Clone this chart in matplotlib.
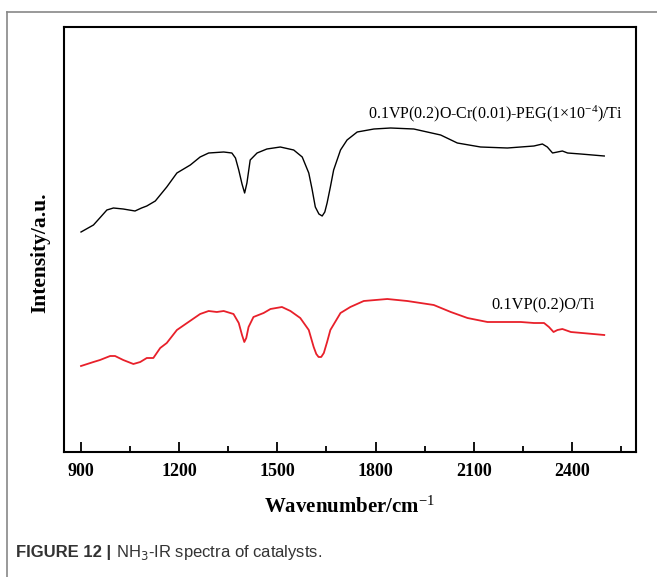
import matplotlib
matplotlib.use("Agg")
import matplotlib.pyplot as plt
from matplotlib.ticker import MultipleLocator
from matplotlib.lines import Line2D

serif = "Liberation Serif"
plt.rcParams["mathtext.fontset"] = "custom"
plt.rcParams["mathtext.rm"] = serif
plt.rcParams["mathtext.it"] = serif + ":italic"
plt.rcParams["mathtext.bf"] = serif + ":bold"

# Black curve: 0.1VP(0.2)O-Cr(0.01)-PEG(1x10^-4)/Ti
wn_black = [900, 938, 960, 979, 999, 1029, 1065, 1085, 1101, 1127, 1162, 1193, 1234, 1264, 1290,
            1336, 1361, 1372, 1382, 1392, 1400, 1407, 1417, 1438, 1468, 1509, 1550, 1576,
            1596, 1606, 1616, 1627, 1637, 1645, 1652, 1662, 1672, 1693, 1713, 1744, 1795, 1846, 1917, 1999,
            2050, 2121, 2203, 2284, 2310, 2325, 2341, 2356, 2371, 2387, 2427, 2499]
int_black = [220, 227, 235, 242, 244, 243, 241, 244, 246, 251, 265, 279, 287, 295, 299,
             300, 299, 294, 282, 268, 259, 269, 292, 299, 303, 305, 302, 295,
             279, 263, 245, 238, 236, 240, 249, 265, 282, 302, 312, 320, 323, 324, 323, 317,
             309, 305, 304, 306, 308, 305, 299, 300, 301, 299, 298, 296]

# Red curve: 0.1VP(0.2)O/Ti
wn_red = [900, 938, 958, 989, 1004, 1029, 1060, 1081, 1101, 1121, 1142, 1162, 1193,
          1224, 1264, 1290, 1315, 1336, 1366, 1382, 1392, 1399, 1405, 1412, 1427, 1458, 1479,
          1514, 1540, 1570, 1596, 1611, 1619, 1626, 1634, 1642, 1652, 1662, 1693, 1723, 1764, 1836,
          1897, 1978, 2030, 2081, 2142, 2244, 2284, 2315, 2330, 2344, 2356, 2371,
          2397, 2499]
int_red = [86, 90, 92, 96, 96, 92, 88, 90, 94, 94, 104, 109, 122,
           129, 138, 141, 140, 141, 138, 129, 117, 110, 114, 125, 135, 139, 143,
           145, 141, 134, 122, 105, 98, 95, 95, 99, 110, 122, 139, 145, 151, 153,
           151, 147, 140, 134, 130, 130, 129, 129, 125, 120, 122, 123,
           120, 117]

label_black = r"0.1VP(0.2)O-Cr(0.01)-PEG(1×10$^{-4}$)/Ti"
label_red = "0.1VP(0.2)O/Ti"
xticks = [900, 1200, 1500, 1800, 2100, 2400]

W, H = 657, 577
fig = plt.figure(figsize=(W / 100, H / 100), dpi=100)
ax = fig.add_axes([64 / W, 1 - 452 / H, (636 - 64) / W, (452 - 27) / H])

ax.plot(wn_black, int_black, color="black", lw=1.0)
ax.plot(wn_red, int_red, color="#e8202a", lw=1.3)

ax.set_xlim(848, 2596)
ax.set_ylim(0, 425)
ax.set_xticks(xticks)
ax.xaxis.set_minor_locator(MultipleLocator(150))
ax.set_yticks([])
ax.tick_params(axis="x", which="major", direction="in", length=7, width=1.3, pad=8)
ax.tick_params(axis="x", which="minor", direction="in", length=4, width=1.3)
for s in ax.spines.values():
    s.set_linewidth(1.5)

for lab in ax.get_xticklabels():
    lab.set_fontfamily(serif)
    lab.set_fontweight("bold")
    lab.set_fontsize(13)

ax.set_xlabel("Wavenumber/cm$^{-1}$", fontfamily=serif, fontweight="bold",
              fontsize=15, labelpad=12)
ax.set_ylabel("Intensity/a.u.", fontfamily=serif, fontweight="bold", fontsize=15.5)
ax.yaxis.set_label_coords(-0.024, 0.47)

ax.text(2556, 338, label_black, fontfamily=serif, fontsize=11.5, ha="right", va="center")
ax.text(2471, 147, label_red, fontfamily=serif, fontsize=11.8, ha="right", va="center")

# outer frame (left and top)
fig.add_artist(Line2D([7 / W, 7 / W], [0, 1 - 12 / H], transform=fig.transFigure,
                      color="#888888", lw=1.2))
fig.add_artist(Line2D([7 / W, 1], [1 - 12 / H, 1 - 12 / H], transform=fig.transFigure,
                      color="#888888", lw=1.2))

# caption
t1 = fig.text(16 / W, 1 - 553 / H, "FIGURE 12 |", fontfamily="Liberation Sans",
              fontweight="bold", fontsize=12, color="#333333", va="center")
fig.canvas.draw()
bb = t1.get_window_extent()
fig.text(bb.x1 / W + 5 / W, 1 - 553 / H, "NH$_3$-IR spectra of catalysts.",
         fontfamily="Liberation Sans", fontsize=12, color="#333333", va="center",
         math_fontfamily="dejavusans")

fig.savefig("out.png", dpi=100)
